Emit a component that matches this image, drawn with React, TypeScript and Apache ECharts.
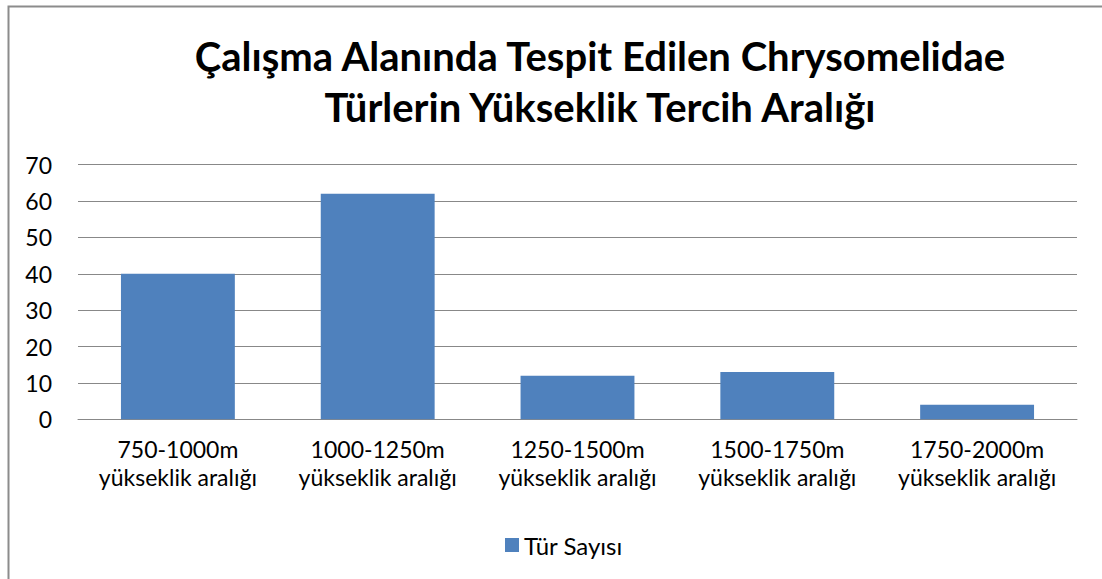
import React, { useEffect, useRef } from "react";
import * as echarts from "echarts";

const titleText = "Çalışma Alanında Tespit Edilen Chrysomelidae\nTürlerin Yükseklik Tercih Aralığı";
const categories = [
  "750-1000m\nyükseklik aralığı",
  "1000-1250m\nyükseklik aralığı",
  "1250-1500m\nyükseklik aralığı",
  "1500-1750m\nyükseklik aralığı",
  "1750-2000m\nyükseklik aralığı",
];
const seriesName = "Tür Sayısı";
const values = [40, 62, 12, 13, 4];
const yMin = 0;
const yMax = 70;
const yStep = 10;

export default function App() {
  const ref = useRef<HTMLDivElement>(null);
  useEffect(() => {
    if (!ref.current) return;
    const chart = echarts.init(ref.current, undefined, { renderer: "svg" });
    const font = "Lato, 'Open Sans', sans-serif";
    chart.setOption({
      animation: false,
      backgroundColor: "#ffffff",
      graphic: [
        {
          type: "rect",
          shape: { x: 8.5, y: 6.5, width: 1200, height: 700 },
          style: { fill: "none", stroke: "#8c8c8c", lineWidth: 2 },
          silent: true,
        },
      ],
      title: {
        text: titleText,
        left: 595,
        textAlign: "center",
        top: 25,
        textStyle: {
          fontFamily: font,
          fontWeight: "bold",
          fontSize: 40,
          lineHeight: 51,
          color: "#000000",
        },
      },
      legend: {
        data: [seriesName],
        left: 500,
        top: 528,
        itemWidth: 14,
        itemHeight: 14,
        itemGap: 8,
        icon: "rect",
        textStyle: { fontFamily: font, fontSize: 24, color: "#000" },
      },
      grid: { left: 78, right: 25, top: 164.7, bottom: 159.7, containLabel: false },
      xAxis: {
        type: "category",
        data: categories,
        axisLine: { lineStyle: { color: "#888888", width: 1 } },
        axisTick: { show: false },
        axisLabel: {
          fontFamily: font,
          fontSize: 23,
          lineHeight: 28,
          color: "#000",
          margin: 16,
          interval: 0,
        },
      },
      yAxis: {
        type: "value",
        min: yMin,
        max: yMax,
        interval: yStep,
        axisLine: { show: false },
        axisTick: { show: false },
        splitLine: { lineStyle: { color: "#888888", width: 1 } },
        axisLabel: { fontFamily: font, fontSize: 23, color: "#000", margin: 26 },
      },
      series: [
        {
          name: seriesName,
          type: "bar",
          data: values,
          barWidth: "57%",
          itemStyle: { color: "#4f81bd" },
        },
      ],
    });
    return () => chart.dispose();
  }, []);
  return (
    <div
      ref={ref}
      style={{ position: "absolute", left: 0, top: 0, width: 1102, height: 579 }}
    />
  );
}
